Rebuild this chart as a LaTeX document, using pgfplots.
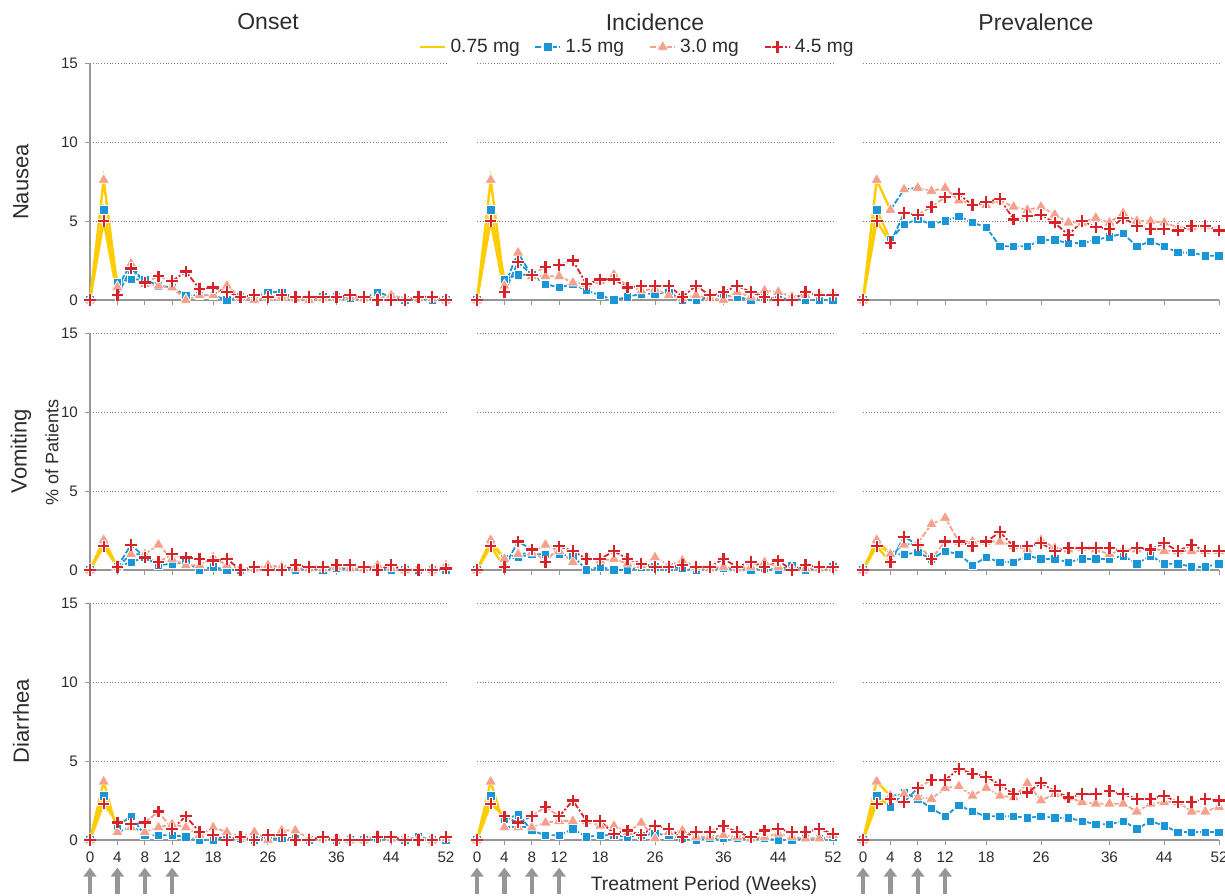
\documentclass[border=0pt]{standalone}
\usepackage{fontspec}
\setmainfont{Liberation Sans}
\usepackage{pgfplots}
\usepackage{pgfplotstable}
\pgfplotsset{compat=1.18}
\usetikzlibrary{arrows.meta}

\definecolor{yel}{RGB}{255,204,0}
\definecolor{blu}{RGB}{26,150,214}
\definecolor{sal}{RGB}{245,160,138}
\definecolor{rd}{RGB}{215,35,40}
\definecolor{axgray}{RGB}{150,150,150}
\definecolor{txt}{RGB}{45,45,45}

\pgfplotstableread{
w a b c
0 0 0 0
2 5.7 7.6 5.0
4 1.1 0.8 0.3
6 1.3 2.3 2.0
8 1.3 1.0 1.1
10 0.9 0.9 1.5
12 0.8 0.8 1.2
14 0.3 0.0 1.8
16 0.3 0.3 0.7
18 0.3 0.3 0.8
20 0.0 0.9 0.5
22 0.2 0.2 0.2
24 0.2 0.0 0.3
26 0.5 0.2 0.2
28 0.5 0.2 0.3
30 0.1 0.1 0.2
32 0.1 0.0 0.2
34 0.2 0.1 0.2
36 0.2 0.2 0.2
38 0.1 0.2 0.3
40 0.1 0.1 0.2
42 0.5 0.1 0.0
44 0.2 0.3 0.0
46 0.0 0.1 0.0
48 0.1 0.1 0.2
50 0.0 0.1 0.2
52 0.0 0.0 0.0
}\NO
\pgfplotstableread{
w a b c
0 0 0 0
2 5.7 7.6 5.0
4 1.3 0.9 0.5
6 1.6 3.0 2.4
8 1.6 1.5 1.6
10 1.0 1.5 2.1
12 0.8 1.5 2.2
14 1.0 1.1 2.5
16 0.6 1.0 1.0
18 0.3 1.2 1.3
20 0.0 1.6 1.3
22 0.2 0.9 0.8
24 0.4 0.6 0.9
26 0.4 0.7 0.9
28 0.5 0.3 0.9
30 0.0 0.1 0.2
32 0.0 0.3 0.9
34 0.2 0.1 0.3
36 0.3 0.0 0.5
38 0.2 0.5 0.9
40 0.0 0.2 0.5
42 0.2 0.6 0.2
44 0.1 0.5 0.0
46 0.1 0.2 0.0
48 0.0 0.3 0.5
50 0.0 0.4 0.3
52 0.0 0.4 0.3
}\NI
\pgfplotstableread{
w a b c
0 0 0 0
2 5.7 7.6 5.0
4 3.8 5.7 3.6
6 4.8 7.0 5.5
8 5.1 7.1 5.4
10 4.8 6.9 5.9
12 5.0 7.1 6.5
14 5.3 6.3 6.7
16 4.9 6.1 6.0
18 4.6 6.0 6.2
20 3.4 6.3 6.4
22 3.4 5.9 5.1
24 3.4 5.7 5.3
26 3.8 5.9 5.4
28 3.8 5.4 4.9
30 3.6 4.9 4.1
32 3.6 4.9 5.0
34 3.8 5.2 4.6
36 4.0 4.9 4.5
38 4.2 5.5 5.2
40 3.4 5.0 4.7
42 3.7 5.0 4.5
44 3.4 4.9 4.5
46 3.0 4.6 4.4
48 3.0 4.6 4.7
50 2.8 4.7 4.7
52 2.8 4.4 4.4
}\NP
\pgfplotstableread{
w a b c
0 0 0 0
2 1.7 1.9 1.5
4 0.2 0.2 0.2
6 0.5 1.0 1.6
8 0.8 1.0 0.8
10 0.3 1.6 0.5
12 0.4 0.7 1.0
14 0.5 0.3 0.8
16 0.0 0.3 0.7
18 0.2 0.8 0.6
20 0.0 0.3 0.7
22 0.0 0.1 0.0
24 0.1 0.1 0.2
26 0.1 0.3 0.0
28 0.1 0.2 0.0
30 0.0 0.1 0.3
32 0.1 0.1 0.2
34 0.0 0.1 0.2
36 0.1 0.2 0.3
38 0.1 0.1 0.3
40 0.1 0.1 0.2
42 0.1 0.3 0.0
44 0.0 0.1 0.3
46 0.0 0.0 0.0
48 0.0 0.1 0.0
50 0.0 0.0 0.0
52 0.0 0.3 0.1
}\VO
\pgfplotstableread{
w a b c
0 0 0 0
2 1.7 1.9 1.5
4 0.7 0.7 0.2
6 0.8 1.0 1.8
8 1.0 1.1 1.3
10 1.0 1.6 0.5
12 1.0 1.2 1.5
14 0.9 0.5 1.2
16 0.0 0.8 0.7
18 0.2 0.6 0.7
20 0.0 0.7 1.2
22 0.0 0.4 0.7
24 0.2 0.3 0.4
26 0.2 0.8 0.2
28 0.2 0.3 0.2
30 0.1 0.6 0.3
32 0.0 0.2 0.2
34 0.1 0.1 0.2
36 0.1 0.2 0.7
38 0.1 0.1 0.2
40 0.0 0.2 0.5
42 0.1 0.5 0.2
44 0.0 0.2 0.6
46 0.3 0.1 0.0
48 0.0 0.1 0.3
50 0.1 0.1 0.2
52 0.2 0.1 0.2
}\VI
\pgfplotstableread{
w a b c
0 0 0 0
2 1.7 1.9 1.5
4 1.0 1.0 0.5
6 1.0 1.6 2.1
8 1.1 1.7 1.6
10 0.7 2.9 0.7
12 1.2 3.3 1.8
14 1.0 1.8 1.8
16 0.3 1.8 1.5
18 0.8 1.8 1.8
20 0.5 1.8 2.4
22 0.5 1.5 1.5
24 0.9 1.3 1.5
26 0.7 1.9 1.7
28 0.7 1.4 1.2
30 0.5 1.3 1.4
32 0.7 1.4 1.4
34 0.7 1.3 1.4
36 0.7 1.0 1.4
38 0.9 1.3 1.2
40 0.4 1.3 1.4
42 0.9 1.4 1.3
44 0.4 1.2 1.7
46 0.4 1.2 1.2
48 0.2 1.2 1.6
50 0.2 1.2 1.2
52 0.4 1.2 1.2
}\VP
\pgfplotstableread{
w a b c
0 0 0 0
2 2.8 3.7 2.3
4 0.9 0.5 1.1
6 1.5 0.8 1.0
8 0.3 0.5 1.1
10 0.3 0.8 1.8
12 0.3 1.0 0.7
14 0.2 0.8 1.5
16 0.0 0.3 0.5
18 0.0 0.8 0.3
20 0.1 0.5 0.0
22 0.1 0.2 0.2
24 0.0 0.5 0.0
26 0.1 0.0 0.3
28 0.1 0.6 0.3
30 0.1 0.6 0.0
32 0.0 0.1 0.0
34 0.1 0.1 0.2
36 0.0 0.1 0.0
38 0.0 0.0 0.0
40 0.0 0.0 0.0
42 0.1 0.3 0.2
44 0.1 0.1 0.2
46 0.0 0.1 0.0
48 0.2 0.1 0.0
50 0.0 0.0 0.0
52 0.0 0.1 0.2
}\DO
\pgfplotstableread{
w a b c
0 0 0 0
2 2.8 3.7 2.3
4 1.3 0.8 1.5
6 1.6 0.8 1.1
8 0.6 0.8 1.5
10 0.3 1.1 2.1
12 0.3 1.2 1.5
14 0.7 1.2 2.5
16 0.2 1.2 1.2
18 0.3 0.9 1.2
20 0.3 0.9 0.4
22 0.2 0.5 0.6
24 0.3 1.1 0.3
26 0.4 0.1 0.9
28 0.3 0.5 0.7
30 0.1 0.6 0.2
32 0.0 0.2 0.5
34 0.1 0.2 0.5
36 0.1 0.3 0.9
38 0.1 0.2 0.5
40 0.1 0.1 0.2
42 0.1 0.2 0.6
44 0.0 0.4 0.7
46 0.0 0.2 0.5
48 0.1 0.1 0.5
50 0.1 0.1 0.7
52 0.2 0.3 0.4
}\DI
\pgfplotstableread{
w a b c
0 0 0 0
2 2.8 3.7 2.3
4 2.1 2.8 2.6
6 3.0 2.9 2.4
8 2.6 2.7 3.3
10 2.0 2.6 3.8
12 1.5 3.3 3.8
14 2.2 3.4 4.5
16 1.8 2.8 4.2
18 1.5 3.3 4.0
20 1.5 2.8 3.5
22 1.5 2.7 2.9
24 1.4 3.6 3.0
26 1.5 2.5 3.6
28 1.4 2.9 3.1
30 1.4 2.7 2.7
32 1.2 2.4 2.9
34 1.0 2.3 2.9
36 1.0 2.3 3.1
38 1.2 2.3 2.9
40 0.7 1.8 2.6
42 1.2 2.3 2.6
44 0.9 2.4 2.8
46 0.5 2.4 2.4
48 0.5 1.8 2.4
50 0.5 1.8 2.6
52 0.5 2.1 2.5
}\DP

\pgfplotsset{
  panel/.style={width=178pt,height=118.5pt,scale only axis,
    xmin=0,xmax=52,ymin=0,ymax=15,
    axis x line*=bottom, axis y line*=left,
    axis line style={axgray,line width=0.6pt,-},
    xtick={0,4,8,12,18,26,36,44,52}, ytick={0,5,10,15},
    tick align=outside, major tick length=2.5pt,
    tick style={axgray,line width=0.5pt},
    ymajorgrids, grid style={gray,densely dotted,line width=0.4pt},
    clip=false, xticklabels={}, yticklabels={},
    tick label style={font=\fontsize{7.6}{8}\selectfont,text=txt},
    /pgf/number format/assume math mode=true},
  ycolA/.style={yticklabels={0,5,10,15}},
  ycolB/.style={y axis line style={draw=none}, ytick style={draw=none}},
  xbottom/.style={xticklabels={0,4,8,12,18,26,36,44,52}},
  yl/.style={yel,line width=1.2pt,no marks},
  bl/.style={blu,line width=0.9pt,no marks,dash pattern=on 3pt off 1pt},
  sl/.style={sal,line width=0.9pt,no marks,dash pattern=on 3pt off 1pt},
  rl/.style={rd,line width=0.9pt,no marks,dash pattern=on 3pt off 1pt on 1pt off 1pt},
  sqm/.style={only marks,mark=square*,mark size=2.1pt,mark options={fill=blu,draw=white,line width=0.35pt}},
  trm/.style={only marks,mark=triangle*,mark size=3.3pt,mark options={fill=sal,draw=white,line width=0.35pt}},
  crh/.style={only marks,mark=+,mark size=3.1pt,mark options={draw=white,line width=2.1pt}},
  crm/.style={only marks,mark=+,mark size=2.9pt,mark options={draw=rd,line width=1.15pt}},
}

\newcommand\series[1]{%
\addplot[yl, restrict x to domain=0:4] table[x=w,y=a]{#1};
\addplot[yl, restrict x to domain=0:4] table[x=w,y=b]{#1};
\addplot[yl, restrict x to domain=0:4] table[x=w,y=c]{#1};
\addplot[bl, restrict x to domain=4:52] table[x=w,y=a]{#1};
\addplot[bl, restrict x to domain=4:8] table[x=w,y=b]{#1};
\addplot[sl, restrict x to domain=8:52] table[x=w,y=b]{#1};
\addplot[bl, restrict x to domain=4:8] table[x=w,y=c]{#1};
\addplot[sl, restrict x to domain=8:12] table[x=w,y=c]{#1};
\addplot[rl, restrict x to domain=12:52] table[x=w,y=c]{#1};
\addplot[sqm] table[x=w,y=a]{#1};
\addplot[trm] table[x=w,y=b]{#1};
\addplot[crh] table[x=w,y=c]{#1};
\addplot[crm] table[x=w,y=c]{#1};
}
\tikzset{warr/.style={axgray,line width=2.2pt,-{Triangle[width=6.5pt,length=4.5pt]}}}
\newcommand\weekarrows{%
\draw[warr] (axis cs:0,-3.4) -- (axis cs:0,-1.75);
\draw[warr] (axis cs:4,-3.4) -- (axis cs:4,-1.75);
\draw[warr] (axis cs:8,-3.4) -- (axis cs:8,-1.75);
\draw[warr] (axis cs:12,-3.4) -- (axis cs:12,-1.75);
}

\begin{document}
\begin{tikzpicture}
\useasboundingbox (0,0) rectangle (612.5pt,-447.5pt);
% Row 1: Nausea
\begin{axis}[panel,ycolA,at={(45pt,-150pt)},anchor=south west]
\series{\NO}
\end{axis}
\begin{axis}[panel,ycolB,at={(238.5pt,-150pt)},anchor=south west,
  legend columns=4,
  legend style={at={(0.458,1.0675)},anchor=center,draw=none,fill=none,
    font=\fontsize{9.6}{11}\selectfont,text=txt,
    /tikz/every odd column/.append style={column sep=0pt}},
  legend image code/.code={\draw[mark repeat=2,mark phase=2] plot coordinates {(0pt,0pt) (6.25pt,0pt) (12.5pt,0pt)};}]
\addlegendimage{yel,line width=1.2pt}
\addlegendentry{\makebox[40pt][l]{0.75 mg}}
\addlegendimage{blu,line width=0.9pt,dash pattern=on 3pt off 1pt,mark=square*,mark size=2.1pt,mark options={solid,fill=blu,draw=white,line width=0.35pt}}
\addlegendentry{\makebox[40pt][l]{1.5 mg}}
\addlegendimage{sal,line width=0.9pt,dash pattern=on 3pt off 1pt,mark=triangle*,mark size=3.3pt,mark options={solid,fill=sal,draw=white,line width=0.35pt}}
\addlegendentry{\makebox[40pt][l]{3.0 mg}}
\addlegendimage{rd,line width=0.9pt,dash pattern=on 3pt off 1pt on 1pt off 1pt,mark=+,mark size=2.9pt,mark options={solid,draw=rd,line width=1.15pt}}
\addlegendentry{\makebox[31pt][l]{4.5 mg}}
\series{\NI}
\end{axis}
\begin{axis}[panel,ycolB,at={(431.5pt,-150pt)},anchor=south west]
\series{\NP}
\end{axis}
% Row 2: Vomiting
\begin{axis}[panel,ycolA,at={(45pt,-285pt)},anchor=south west]
\series{\VO}
\end{axis}
\begin{axis}[panel,ycolB,at={(238.5pt,-285pt)},anchor=south west]
\series{\VI}
\end{axis}
\begin{axis}[panel,ycolB,at={(431.5pt,-285pt)},anchor=south west]
\series{\VP}
\end{axis}
% Row 3: Diarrhea
\begin{axis}[panel,ycolA,xbottom,at={(45pt,-420pt)},anchor=south west]
\series{\DO}
\weekarrows
\end{axis}
\begin{axis}[panel,ycolB,xbottom,at={(238.5pt,-420pt)},anchor=south west]
\series{\DI}
\weekarrows
\end{axis}
\begin{axis}[panel,ycolB,xbottom,at={(431.5pt,-420pt)},anchor=south west]
\series{\DP}
\weekarrows
\end{axis}
% titles and labels
\node[font=\fontsize{11.5}{13}\selectfont,text=txt] at (134pt,-11pt) {Onset};
\node[font=\fontsize{11.5}{13}\selectfont,text=txt] at (327.5pt,-11pt) {Incidence};
\node[font=\fontsize{11.5}{13}\selectfont,text=txt] at (518pt,-11pt) {Prevalence};
\node[font=\fontsize{11}{13}\selectfont,text=txt,rotate=90] at (10.5pt,-91pt) {Nausea};
\node[font=\fontsize{11}{13}\selectfont,text=txt,rotate=90] at (10.5pt,-225.5pt) {Vomiting};
\node[font=\fontsize{11}{13}\selectfont,text=txt,rotate=90] at (10.5pt,-360.5pt) {Diarrhea};
\node[font=\fontsize{9}{10}\selectfont,text=txt,rotate=90] at (26pt,-226pt) {\% of Patients};
\node[font=\fontsize{9.7}{11}\selectfont,text=txt] at (352pt,-442.5pt) {Treatment Period (Weeks)};
\end{tikzpicture}
\end{document}
